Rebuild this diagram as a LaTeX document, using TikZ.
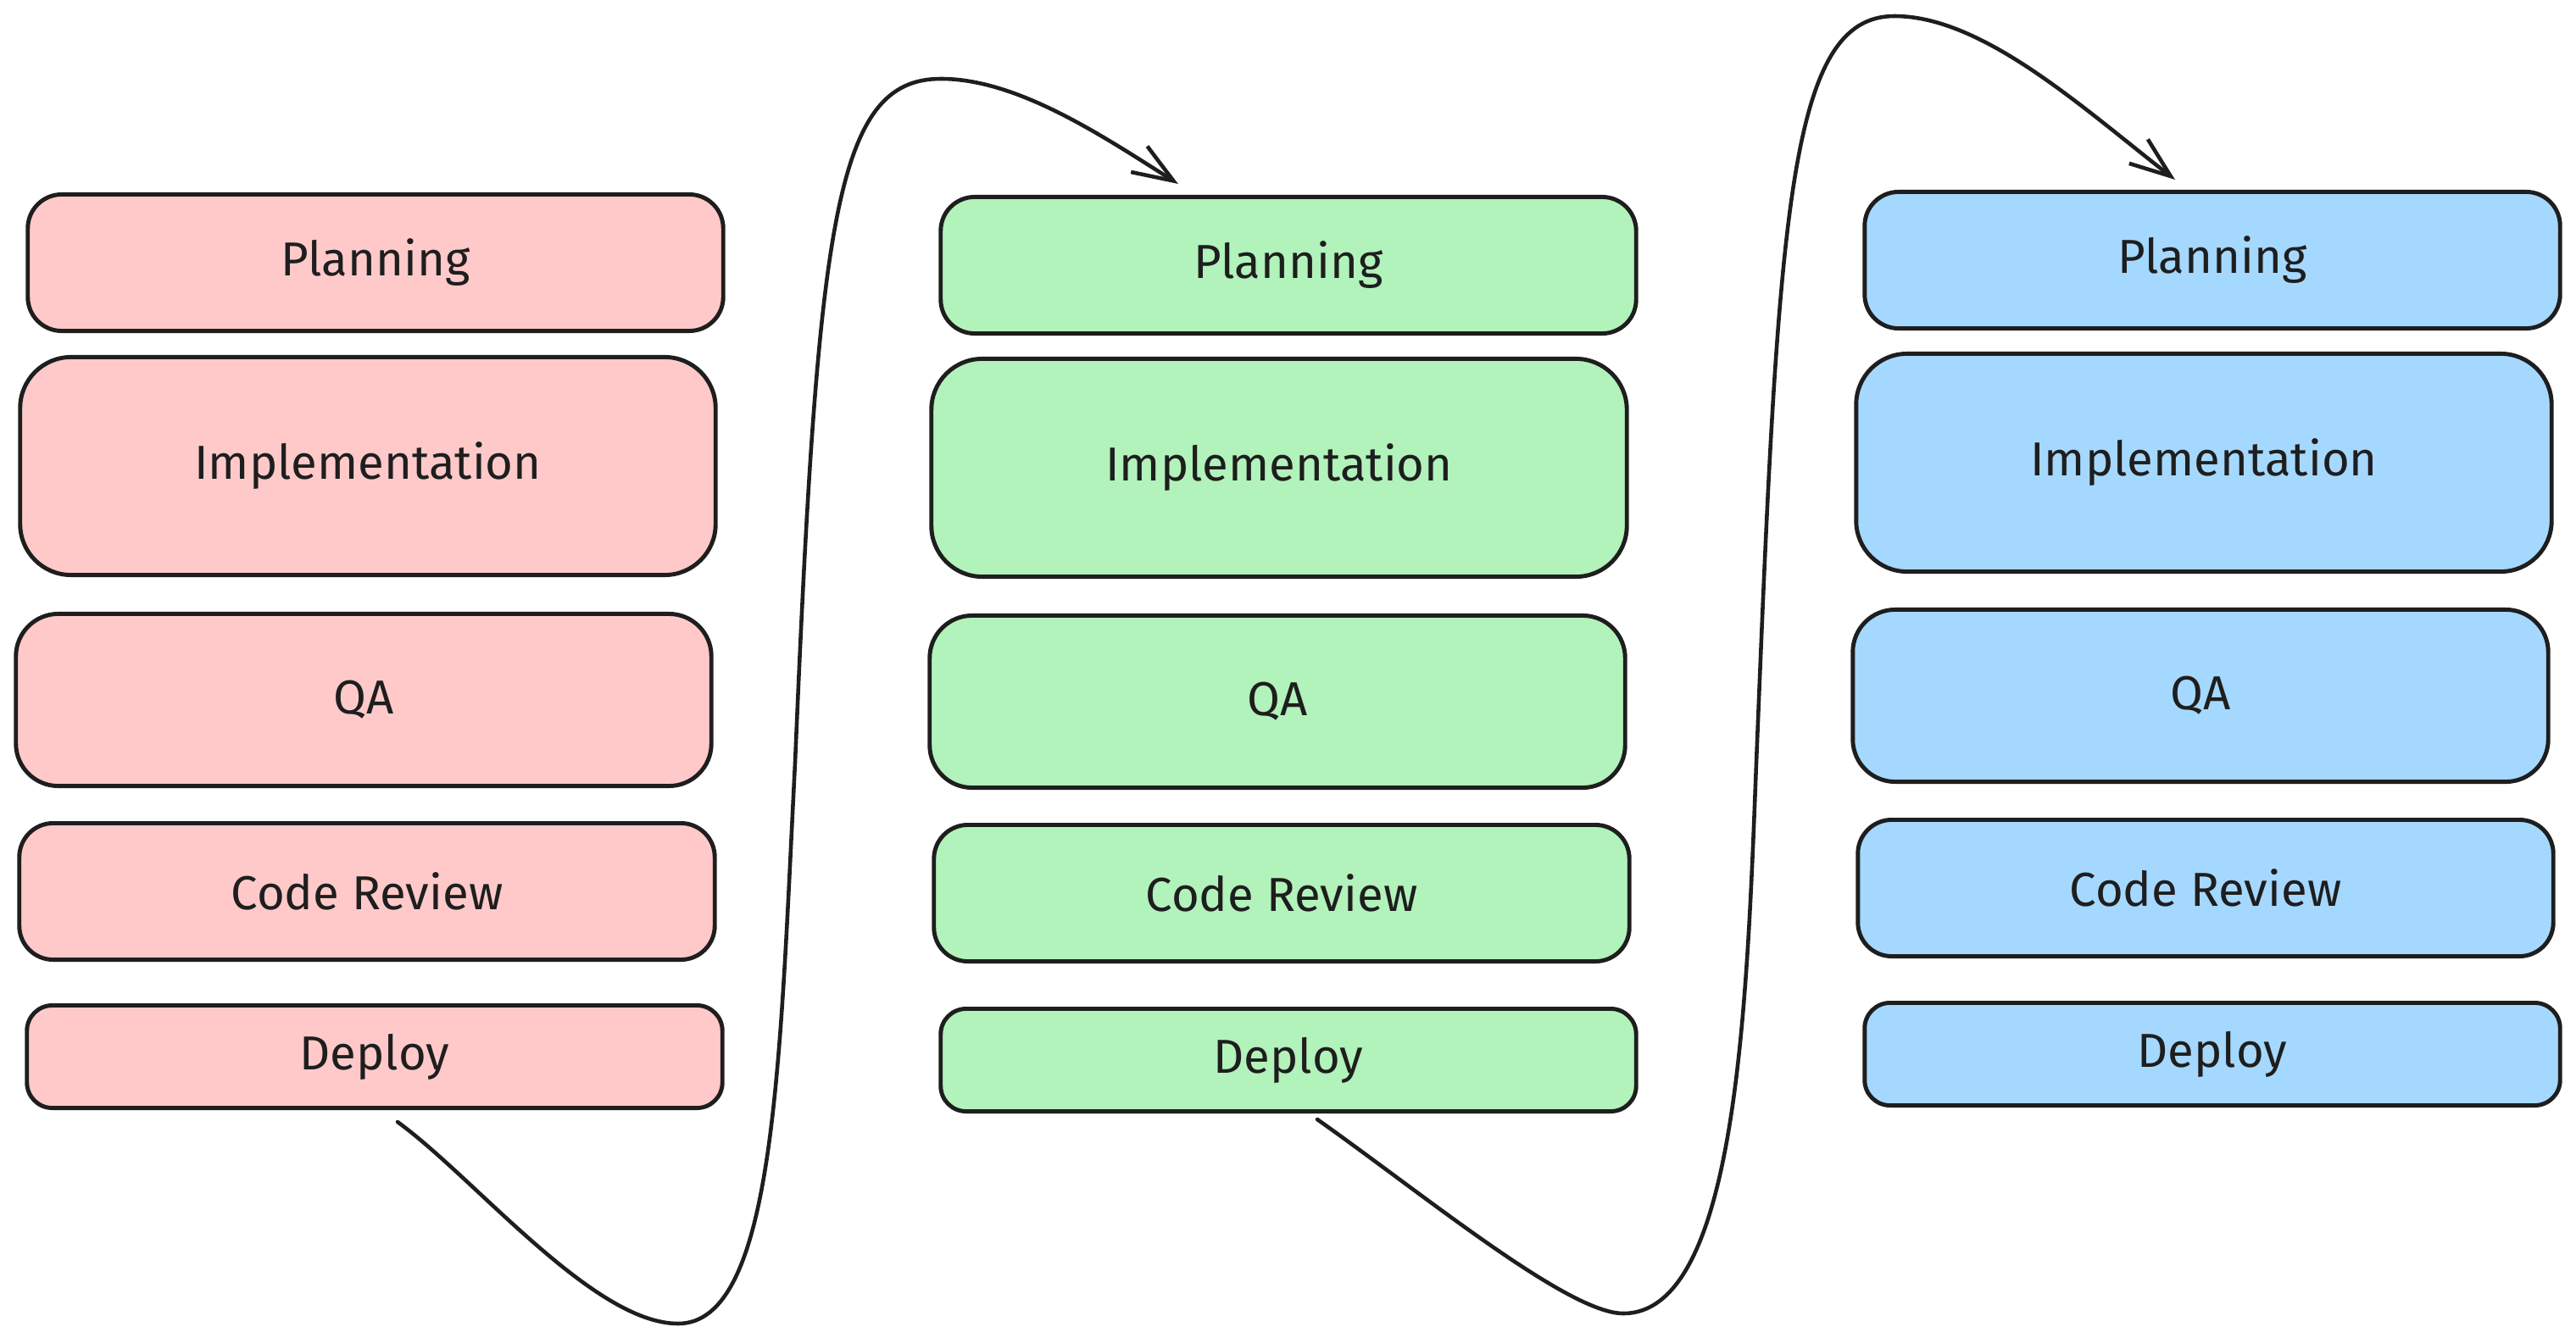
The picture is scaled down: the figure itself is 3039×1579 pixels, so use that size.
\documentclass[tikz,border=0pt]{standalone}
\usepackage{fontspec}
\setmainfont{Fira Sans}
\usetikzlibrary{arrows.meta}
\definecolor{inkc}{HTML}{1E1E1E}
\definecolor{redfill}{HTML}{FFC9C9}
\definecolor{greenfill}{HTML}{B2F2BB}
\definecolor{bluefill}{HTML}{A5D8FF}
\tikzset{
  stage/.style={rectangle,draw=inkc,line width=1.4pt,text=inkc,
    minimum width=8.2cm,inner sep=0pt,font=\fontsize{16}{19}\selectfont},
  plannode/.style={stage,minimum height=1.61cm,rounded corners=0.4cm},
  implnode/.style={stage,minimum height=2.57cm,rounded corners=0.6cm},
  qanode/.style={stage,minimum height=2.03cm,rounded corners=0.5cm},
  revnode/.style={stage,minimum height=1.61cm,rounded corners=0.4cm},
  depnode/.style={stage,minimum height=1.21cm,rounded corners=0.3cm},
  flow/.style={-{Straight Barb[length=0.48cm,width=0.36cm]},line width=1.3pt,
    draw=inkc,line cap=round,line join=round}
}
\begin{document}
\begin{tikzpicture}[x=0.01cm,y=-0.01cm]
  \useasboundingbox (0,0) rectangle (3039,1579);

  % First cycle
  \node[plannode,fill=redfill] (plan1) at (443,310) {Planning};
  \node[implnode,fill=redfill] (impl1) at (434,550) {Implementation};
  \node[qanode,fill=redfill]   (qa1)   at (429,826) {QA};
  \node[revnode,fill=redfill]  (rev1)  at (433,1052) {Code Review};
  \node[depnode,fill=redfill]  (dep1)  at (442,1247) {Deploy};

  % Second cycle
  \node[plannode,fill=greenfill] (plan2) at (1520,313) {Planning};
  \node[implnode,fill=greenfill] (impl2) at (1509,552) {Implementation};
  \node[qanode,fill=greenfill]   (qa2)   at (1507,828) {QA};
  \node[revnode,fill=greenfill]  (rev2)  at (1512,1054) {Code Review};
  \node[depnode,fill=greenfill]  (dep2)  at (1520,1251) {Deploy};

  % Third cycle
  \node[plannode,fill=bluefill] (plan3) at (2610,307) {Planning};
  \node[implnode,fill=bluefill] (impl3) at (2600,546) {Implementation};
  \node[qanode,fill=bluefill]   (qa3)   at (2596,821) {QA};
  \node[revnode,fill=bluefill]  (rev3)  at (2602,1048) {Code Review};
  \node[depnode,fill=bluefill]  (dep3)  at (2610,1244) {Deploy};

  % Loop back ends
  \coordinate (out1) at ([xshift=0.27cm,yshift=-0.14cm]dep1.south);
  \coordinate (in2)  at ([xshift=-1.30cm,yshift=0.13cm]plan2.north);
  \coordinate (out2) at ([xshift=0.34cm,yshift=-0.07cm]dep2.south);
  \coordinate (in3)  at ([xshift=-0.44cm,yshift=0.12cm]plan3.north);

  % Deploy -> next Planning
  \draw[flow] (out1) .. controls (560,1390) and (700,1562) .. (800,1562)
    .. controls (915,1562) and (920,1250) .. (938,900)
    .. controls (965,260) and (985,93) .. (1110,93)
    .. controls (1200,93) and (1300,160) .. (in2);
  \draw[flow] (out2) .. controls (1680,1410) and (1850,1550) .. (1915,1550)
    .. controls (2050,1550) and (2061,1180) .. (2072,900)
    .. controls (2098,250) and (2110,19) .. (2235,19)
    .. controls (2340,19) and (2460,130) .. (in3);

\end{tikzpicture}
\end{document}
